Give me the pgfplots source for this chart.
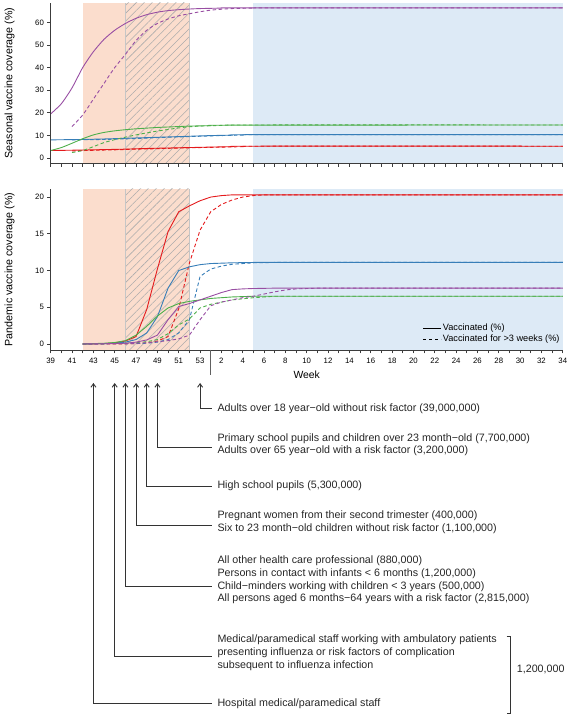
\documentclass[border=0pt]{standalone}
\usepackage{pgfplots}
\pgfplotsset{compat=1.18}
\usepackage{fontspec}
\setmainfont{Liberation Sans}
\usetikzlibrary{patterns.meta,arrows.meta}
\definecolor{cpur}{RGB}{152,78,163}
\definecolor{cgrn}{RGB}{77,175,74}
\definecolor{cblu}{RGB}{55,126,184}
\definecolor{cred}{RGB}{228,26,28}
\definecolor{orsh}{RGB}{251,221,205}
\definecolor{blsh}{RGB}{221,234,246}
\definecolor{axc}{RGB}{60,60,60}
\newcommand{\annfont}{\fontsize{10.7bp}{12.7bp}\selectfont}
\pgfplotsset{
  panel/.style={
    scale only axis, width=512.1bp, xmin=39, xmax=87,
    axis x line=bottom, axis y line=left,
    axis line style={-, line width=0.7bp, axc},
    tick style={line width=0.7bp, axc},
    tick align=outside,
    major tick length=3.3bp, minor tick length=3.3bp,
    xtick={39,41,...,87},
    minor xtick={40,42,...,86},
    /pgf/number format/assume math mode=true,
    ticklabel style={font=\fontsize{7.8bp}{9bp}\selectfont},
    axis on top,
    every axis plot/.append style={line width=0.9bp},
    dsh/.style={dash pattern=on 3.5bp off 2.5bp},
  }
}
\begin{document}
\begin{tikzpicture}
\path[use as bounding box] (0,0) rectangle (570bp,717bp);
% ---------------- top panel ----------------
\begin{axis}[panel, at={(50.7bp,553.7bp)}, anchor=south west, height=160.6bp,
  ymin=-2.36, ymax=68.7, ytick={0,10,...,60}, xticklabels={}]
\addplot[draw=none, fill=orsh] coordinates {(42,-2.36) (52,-2.36) (52,68.7) (42,68.7)} -- cycle;
\addplot[draw=none, pattern={Lines[angle=45,distance=5.6bp,line width=0.55bp]}, pattern color=gray!65] coordinates {(46,-2.36) (52,-2.36) (52,68.7) (46,68.7)} -- cycle;
\addplot[draw=none, fill=blsh] coordinates {(58,-2.36) (87,-2.36) (87,68.7) (58,68.7)} -- cycle;
\addplot[gray!45, line width=0.8bp] coordinates {(46,-2.36) (46,68.7)};
\addplot[gray!45, line width=0.8bp] coordinates {(52,-2.36) (52,68.7)};
% red
\addplot[cred, smooth, tension=0.4] coordinates {(39,3.3) (42,3.5) (44,3.7) (46,3.9) (48,4.2) (50,4.4) (52,4.6) (54,4.8) (56,5.0) (58,5.2) (87,5.2)};
\addplot[cred, dsh, smooth, tension=0.4] coordinates {(41,3.1) (43,3.4) (45,3.6) (47,3.9) (49,4.1) (51,4.4) (53,4.6) (55,4.8) (57,5.0) (59,5.2) (87,5.2)};
% blue
\addplot[cblu, smooth, tension=0.4] coordinates {(39,8.0) (42,8.2) (44,8.4) (46,8.7) (48,9.0) (50,9.3) (52,9.6) (54,9.9) (56,10.1) (58,10.3) (87,10.3)};
\addplot[cblu, dsh, smooth, tension=0.4] coordinates {(41,8.0) (43,8.1) (45,8.3) (47,8.6) (49,9.0) (51,9.3) (53,9.6) (55,9.9) (57,10.1) (59,10.3) (87,10.3)};
% green
\addplot[cgrn, smooth, tension=0.4] coordinates {(39,3.3) (40,4.6) (41,6.5) (42,8.5) (43,10.2) (44,11.3) (45,12.0) (46,12.5) (47,12.9) (48,13.2) (49,13.5) (50,13.7) (51,13.9) (52,14.1) (54,14.3) (56,14.5) (87,14.6)};
\addplot[cgrn, dsh, smooth, tension=0.4] coordinates {(41,2.4) (42,3.3) (43,5.0) (44,6.8) (45,8.1) (46,9.2) (47,10.2) (48,11.1) (49,11.9) (50,12.6) (51,13.3) (52,13.8) (53,14.1) (55,14.4) (58,14.6) (87,14.6)};
% purple
\addplot[cpur, smooth, tension=0.4] coordinates {(39,19.5) (40,24) (41,31) (42,40) (43,47) (44,52.5) (45,56.5) (46,59.5) (47,61.8) (48,63.4) (49,64.5) (50,65.2) (51,65.6) (52,65.9) (53,66.1) (55,66.3) (57,66.4) (87,66.4)};
\addplot[cpur, dsh, smooth, tension=0.4] coordinates {(41,13.9) (42,19) (43,26) (44,33) (45,40) (46,45.8) (47,52) (48,56.5) (49,59.5) (50,61.5) (51,62.9) (52,63.8) (53,64.7) (54,65.4) (55,65.8) (56,66.1) (58,66.3) (60,66.4) (87,66.4)};
\end{axis}
% ---------------- bottom panel ----------------
\begin{axis}[panel, at={(50.7bp,367bp)}, anchor=south west, height=161bp,
  ymin=-0.82, ymax=21.1, ytick={0,5,...,20},
  xticklabels={39,41,43,45,47,49,51,53,2,4,6,8,10,12,14,16,18,20,22,24,26,28,30,32,34},
  xticklabel style={yshift=-1.5bp},
  legend style={at={(rel axis cs:0.996,0.035)}, anchor=south east, draw=none, fill=none,
    font=\fontsize{9.2bp}{11bp}\selectfont, row sep=1bp, inner sep=0pt,
    nodes={inner sep=1bp}},
  legend cell align=left,
  legend image code/.code={\draw[#1] (0bp,0bp) -- (18bp,0bp);}]
\addlegendimage{black, line width=0.8bp}
\addlegendentry{Vaccinated (\%)}
\addlegendimage{black, line width=0.8bp, dash pattern=on 3bp off 3bp}
\addlegendentry{Vaccinated for >3 weeks (\%)}
\addplot[draw=none, fill=orsh] coordinates {(42,-0.82) (52,-0.82) (52,21.1) (42,21.1)} -- cycle;
\addplot[draw=none, pattern={Lines[angle=45,distance=5.6bp,line width=0.55bp]}, pattern color=gray!65] coordinates {(46,-0.82) (52,-0.82) (52,21.1) (46,21.1)} -- cycle;
\addplot[draw=none, fill=blsh] coordinates {(58,-0.82) (87,-0.82) (87,21.1) (58,21.1)} -- cycle;
\addplot[gray!45, line width=0.8bp] coordinates {(46,-0.82) (46,21.1)};
\addplot[gray!45, line width=0.8bp] coordinates {(52,-0.82) (52,21.1)};
% red
\addplot[cred] coordinates {(42,0) (43,0.02) (44,0.05) (45,0.15) (46,0.4) (47,1.0) (48,4.7) (49,10.2) (50,15.3) (51,18.0) (52,18.8) (53,19.5) (54,20.0) (55,20.2) (56,20.3) (87,20.3)};
\addplot[cred, dsh] coordinates {(42,0) (46,0.02) (47,0.05) (48,0.15) (49,0.4) (50,1.0) (51,4.8) (52,11.0) (53,15.5) (54,18.0) (55,19.0) (56,19.6) (57,20.0) (58,20.2) (59,20.3) (87,20.3)};
% blue
\addplot[cblu] coordinates {(42,0) (44,0.05) (45,0.1) (46,0.25) (47,0.6) (48,1.5) (49,3.7) (50,7.6) (51,10.0) (52,10.5) (53,10.8) (54,10.95) (56,11.05) (58,11.1) (87,11.1)};
\addplot[cblu, dsh] coordinates {(42,0) (47,0.05) (48,0.1) (49,0.25) (50,0.6) (51,1.5) (52,3.3) (53,9.2) (54,10.2) (55,10.6) (56,10.85) (58,11.05) (60,11.1) (87,11.1)};
% green
\addplot[cgrn] coordinates {(42,0) (44,0.1) (45,0.2) (46,0.45) (47,1.2) (48,2.4) (49,3.8) (50,4.9) (51,5.5) (52,5.8) (53,6.0) (54,6.2) (56,6.4) (58,6.5) (87,6.5)};
\addplot[cgrn, dsh] coordinates {(42,0) (46,0.1) (48,0.3) (49,0.6) (50,1.4) (51,2.6) (52,3.4) (53,4.9) (54,5.4) (55,5.7) (56,6.0) (58,6.3) (60,6.5) (87,6.5)};
% purple
\addplot[cpur] coordinates {(42,0) (45,0.05) (46,0.1) (47,0.25) (48,0.55) (49,1.2) (50,3.3) (51,5.1) (52,5.5) (53,6.0) (54,6.5) (55,7.0) (56,7.4) (57,7.5) (58,7.55) (60,7.6) (87,7.6)};
\addplot[cpur, dsh] coordinates {(42,0) (46,0.05) (48,0.15) (49,0.3) (50,0.45) (51,0.7) (52,1.2) (53,3.3) (54,5.2) (55,5.7) (56,6.0) (57,6.3) (58,6.5) (59,6.8) (60,7.1) (61,7.35) (62,7.5) (64,7.6) (87,7.6)};
\end{axis}
% ---------------- labels ----------------
\node[rotate=90, font=\fontsize{10.7bp}{12bp}\selectfont] at (9.5bp,634bp) {Seasonal vaccine coverage (\%)};
\node[rotate=90, font=\fontsize{10.7bp}{12bp}\selectfont] at (9.5bp,447.5bp) {Pandemic vaccine coverage (\%)};
\node[font=\fontsize{10.4bp}{12bp}\selectfont] at (306.7bp,342bp) {Week};
\draw[gray!75!black, line width=1.1bp] (210.7bp,367bp) -- (210.7bp,342bp);
% ---------------- annotations ----------------
\begin{scope}[line width=0.9bp, black!80, -{Straight Barb[length=3.5bp,width=5bp]}]
\draw (211.7bp,308.7bp) -| (200.1bp,334bp);
\draw (211.7bp,269.7bp) -| (157.4bp,334bp);
\draw (211.7bp,231bp) -| (146.7bp,334bp);
\draw (211.7bp,191.7bp) -| (136.1bp,334bp);
\draw (211.7bp,130.3bp) -| (125.4bp,334bp);
\draw (211.7bp,60.3bp) -| (114.7bp,334bp);
\draw (211.7bp,13.7bp) -| (93.4bp,334bp);
\end{scope}
\begin{scope}[every node/.style={anchor=west, align=left, inner sep=0pt, font=\annfont, text=black!85}]
\node at (217.3bp,308.7bp) {Adults over 18 year−old without risk factor (39,000,000)};
\node at (217.3bp,272.3bp) {Primary school pupils and children over 23 month−old (7,700,000)\\Adults over 65 year−old with a risk factor (3,200,000)};
\node at (217.3bp,231bp) {High school pupils (5,300,000)};
\node at (217.3bp,195.1bp) {Pregnant women from their second trimester (400,000)\\Six to 23 month−old children without risk factor (1,100,000)};
\node at (217.3bp,137bp) {All other health care professional (880,000)\\Persons in contact with infants < 6 months (1,200,000)\\Child−minders working with children < 3 years (500,000)\\All persons aged 6 months−64 years with a risk factor (2,815,000)};
\node at (217.3bp,64.3bp) {Medical/paramedical staff working with ambulatory patients\\presenting influenza or risk factors of complication\\subsequent to influenza infection};
\node at (217.3bp,13.7bp) {Hospital medical/paramedical staff};
\node at (516.7bp,47.7bp) {1,200,000};
\end{scope}
\draw[line width=0.9bp, black!80] (506.7bp,81bp) -- (510.7bp,81bp) -- (510.7bp,3.7bp) -- (506.7bp,3.7bp);
\end{tikzpicture}
\end{document}
